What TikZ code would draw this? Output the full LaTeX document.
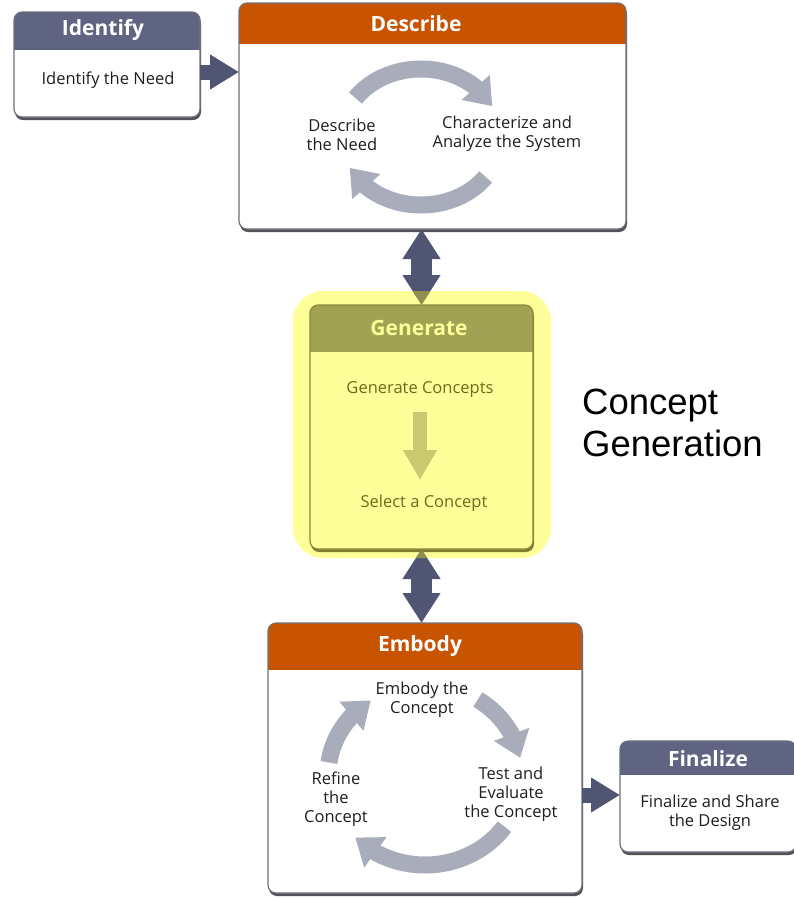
\documentclass[tikz,border=0pt]{standalone}
\usepackage{fontspec}
\setmainfont{Open Sans}
\newfontfamily\arialf{Liberation Sans}
\usetikzlibrary{arrows.meta,bending}
\definecolor{slate}{HTML}{5E6481}
\definecolor{dslate}{HTML}{4F5572}
\definecolor{orng}{HTML}{C85300}
\definecolor{cycgray}{HTML}{A9ADBB}
\definecolor{bord}{HTML}{6E717C}
\definecolor{shad}{HTML}{505257}
\definecolor{hilite}{HTML}{FFFF99}
\definecolor{olivehdr}{HTML}{A2A352}
\definecolor{olivebord}{HTML}{8A8A3A}
\definecolor{oliveshad}{HTML}{7E7E2E}
\definecolor{olivetxt}{HTML}{6B6B1C}
\definecolor{olivearr}{HTML}{C9C970}
\definecolor{olivetip}{HTML}{8F9050}
\definecolor{txt}{HTML}{1E1E1E}
% #1 name, #2 x1, #3 y1, #4 x2, #5 y2, #6 header bottom, #7 header colour, #8 body colour, #9 border colour
\newcommand\drawstage[9]{%
  \fill[shad,rounded corners=8] (#2+1,#3+3) rectangle (#4+1,#5+3);
  \fill[#8,rounded corners=8] (#2,#3) rectangle (#4,#5);
  \begin{scope}
    \clip[rounded corners=8] (#2,#3) rectangle (#4,#5);
    \fill[#7] (#2,#3) rectangle (#4,#6);
  \end{scope}
  \node[draw=#9,line width=1.2,rounded corners=8,inner sep=0pt,outer sep=0pt,
        minimum width={(#4-#2)*1pt},minimum height={(#5-#3)*1pt}]
        (#1) at ({(#2+#4)/2},{(#3+#5)/2}) {};
}
\tikzset{
  hdr/.style={text=white,font=\bfseries\fontsize{21}{25}\selectfont,inner sep=0pt},
  lbl/.style={text=txt,font=\fontsize{16.5}{18.8}\selectfont,align=center,inner sep=0pt},
  olbl/.style={text=olivetxt,font=\fontsize{16.5}{18.8}\selectfont,align=center,inner sep=0pt},
  fatarrow/.style={draw=dslate,line width=15,-{Triangle[length=29pt,width=33pt]}},
  dblarrow/.style={draw=dslate,line width=21,{Triangle[length=30pt,width=36pt]}-{Triangle[length=30pt,width=36pt]}},
  cycarrow/.style={draw=cycgray,line width=17,-{Triangle[length=25pt,width=36pt]}},
}
\begin{document}
\begin{tikzpicture}[x=1pt,y=-1pt]
\useasboundingbox (0,0) rectangle (794,898);
\fill[white] (0,0) rectangle (794,898);

% highlight
\fill[hilite,rounded corners=30] (293,291) rectangle (551,558);

% stage boxes
\drawstage{identify}{14}{12}{200}{117}{50}{slate}{white}{bord}
\drawstage{describe}{239}{3}{626}{229}{44}{orng}{white}{bord}
\drawstage{embody}{268}{623}{582}{893}{670}{orng}{white}{bord}
\drawstage{finalize}{620}{741}{796}{852}{775}{slate}{white}{bord}
\fill[oliveshad,rounded corners=8] (311,308) rectangle (534,552);
\fill[hilite,rounded corners=8] (310,305) rectangle (533,549);
\begin{scope}
  \clip[rounded corners=8] (310,305) rectangle (533,549);
  \fill[olivehdr] (310,305) rectangle (533,352);
\end{scope}
\node[draw=olivebord,line width=1.2,rounded corners=8,inner sep=0pt,outer sep=0pt,
      minimum width=223pt,minimum height=244pt] (generate) at (421.5,427) {};

% headers
\node[hdr] (tIdentify) at (103,30) {Identify};
\node[hdr] (tDescribe) at (416,24) {Describe};
\node[hdr,text=hilite] (tGenerate) at (419,328) {Generate};
\node[hdr] (tEmbody) at (420,646) {Embody};
\node[hdr] (tFinalize) at (708,759) {Finalize};

% body texts
\node[lbl] (need) at (108,80) {Identify the Need};
\node[lbl] (descneed) at (342,135) {Describe\\the Need};
\node[lbl] (charsys) at (507,134) {Characterize and\\Analyze the System};
\node[olbl] (genc) at (420,389) {Generate Concepts};
\node[olbl] (selc) at (424,503) {Select a Concept};
\node[lbl] (embc) at (422,700) {Embody the\\Concept};
\node[lbl] (testc) at (511,794) {Test and\\Evaluate\\the Concept};
\node[lbl] (refc) at (336,799) {Refine\\the\\Concept};
\node[lbl] (fins) at (710,813) {Finalize and Share\\the Design};

% describe cycle
\draw[cycarrow] ([shift={(215:80 and 68)}]421,137) arc[start angle=215,end angle=333,x radius=80,y radius=68];
\draw[cycarrow] ([shift={(36:80 and 68)}]421,137) arc[start angle=36,end angle=153,x radius=80,y radius=68];

% generate arrow
\draw[draw=olivearr,line width=14,-{Triangle[length=30pt,width=32pt]}] (genc.south |- 0,412) -- (genc.south |- 0,480);

% embody cycle
\draw[cycarrow] ([shift={(303:97 and 90)}]425,775) arc[start angle=303,end angle=349,x radius=97,y radius=90];
\draw[cycarrow] ([shift={(35:97 and 90)}]425,775) arc[start angle=35,end angle=136,x radius=97,y radius=90];
\draw[cycarrow] ([shift={(188:97 and 90)}]425,775) arc[start angle=188,end angle=236,x radius=97,y radius=90];

% connectors
\draw[fatarrow] (identify.east |- 0,72) -- (describe.west |- 0,72);
\draw[fatarrow] (embody.east |- 0,795) -- (finalize.west |- 0,795);
\draw[dblarrow] (describe.south -| generate.north) -- (generate.north);
\draw[dblarrow] (generate.south) -- (embody.north -| generate.south);
\begin{scope}
  \clip[rounded corners=30] (293,291) rectangle (551,558);
  \draw[dblarrow,draw=olivetip] (describe.south -| generate.north) -- (generate.north);
  \draw[dblarrow,draw=olivetip] (generate.south) -- (embody.north -| generate.south);
\end{scope}

% side label
\node[anchor=west,align=left,inner sep=0pt,font=\arialf\fontsize{36.5}{42}\selectfont] (cg) at (582,423) {Concept\\Generation};
\end{tikzpicture}
\end{document}
